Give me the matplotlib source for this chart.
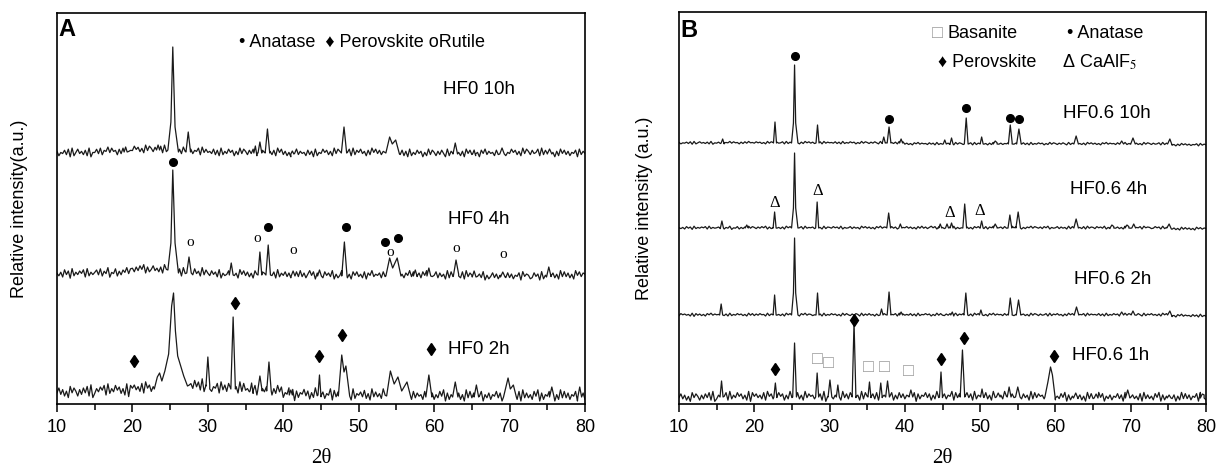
import matplotlib.pyplot as plt
import numpy as np

plt.rcParams['font.family'] = ['Liberation Sans', 'DejaVu Sans']
plt.rcParams['mathtext.fontset'] = 'stix'

# scan grid, 0.25 deg step
two_theta = np.arange(10, 80.001, 0.25)

# baseline texture (digits 0-9 around 4.5)
noise_1 = ("4736251847 5263748291 3647582936 4857362918 5746382957 3648572639 4758362947 5638472915 "
           "4736582947 3857462938 5647382946 4758263847 3659481736 5847263948 4736592847 3658472936 "
           "5748362947 4639582746 5837462938 4756382947 3648592736 5847362948 4739582647 3658472938 "
           "5746382947 4638592736 5847263948 4736582947 3648572936")
noise_2 = ("5362847193 6475829364 5738264915 4826375948 6374859273 5846372958 4637582946 5738462937 "
           "6485739264 5837462958 4736285947 6358472936 5847362849 4736958274 6385749263 5947362858 "
           "4638275946 5738462957 4826375948 6473859264 5837462938 4756382947 6385749263 5847362948 "
           "4736582957 6348572936 5847362948 4736295847 6358472936")
noise_3 = ("6254738192 5846372915 4738265948 5627384956 4857362948 6374582937 5846273958 4736582947 "
           "5648372936 4857263948 6374852937 5846372958 4736285947 5638472936 4857362948 6374582937 "
           "5846273958 4736582947 5648372936 4857263948 6374852937 5846372958 4736285947 5638472936 "
           "4857362948 6374582937 5846273958 4736582947 5648372936")
noise_4 = ("3857462918 4736285947 5648372936 4857362948 3748562937 5846372958 4736285947 6358472936 "
           "4857362948 5374862937 4846273958 5736582947 4648372936 5857263948 4374852937 5846372958 "
           "4736285947 5638472936 4857362948 6374582937 5846273958 4736582947 5648372936 4857263948 "
           "6374852937 5846372958 4736285947 5638472936 4857362948")

# ---------------- Panel A (HF0) ----------------
a_names = ['HF0 2h', 'HF0 4h', 'HF0 10h']
a_offsets = [12, 129, 251]
a_background = [[0, 1, 3, 6, 3, 1, -3, -4, -4, -5, -5, -5, -5, -5],
                [1, 2, 5, 2, 0, 0, -1, -1, -1, -1, -1, -2, -2, -1],
                [0, 1, 3, 1, 0, 0, -1, 0, 0, -1, -1, -1, 0, -1]]
a_noise = [noise_1, noise_2, noise_3]
a_noise_amp = [1.6, 1.2, 1.1]
# peaks: (2theta, height, half width) or explicit vertex lists
a_peaks = [
    [[(22.9, 0), (23.3, 12), (23.6, 16), (23.9, 8), (24.3, 18), (24.8, 35), (25.2, 80), (25.45, 93),
      (25.7, 55), (26.0, 30), (26.4, 20), (26.8, 10), (27.3, 0)],
     (30.0, 32, 0.25), (33.35, 72, 0.3), (35.8, 8, 0.2), (36.9, 15, 0.3), (38.1, 29, 0.3),
     (41.0, 5, 0.2), (44.8, 20, 0.2),
     [(47.3, 0), (47.75, 41), (48.05, 24), (48.3, 30), (48.8, 0)],
     [(53.7, 0), (54.2, 25), (54.7, 12), (55.2, 20), (55.7, 6), (56.4, 15), (56.9, 0)],
     (59.3, 22, 0.4), (62.8, 15, 0.35), (65.6, 12, 0.3),
     [(69.2, 0), (69.8, 19), (70.1, 8), (70.5, 12), (70.9, 0)],
     (75.6, 10, 0.3), (79.3, 10, 0.25)],
    [[(24.7, 0), (25.1, 30), (25.35, 103), (25.65, 30), (26.1, 0)],
     (27.5, 16, 0.3), (33.1, 12, 0.25), (36.9, 23, 0.25), (38.0, 30, 0.3), (41.3, 5, 0.25),
     (44.8, 6, 0.25), (48.1, 34, 0.35),
     [(53.6, 0), (54.1, 18), (54.5, 8), (55.1, 18), (55.6, 0)],
     (57.5, 6, 0.25), (59.3, 8, 0.25), (62.9, 16, 0.35), (65.3, 6, 0.25), (69.1, 5, 0.3),
     (75.2, 9, 0.3)],
    [(19.1, 5, 0.2), (23.4, 5, 0.2),
     [(24.7, 0), (25.1, 30), (25.35, 105), (25.65, 25), (26.1, 0)],
     (27.4, 20, 0.3), (36.3, 7, 0.2), (36.9, 11, 0.25), (37.9, 24, 0.3), (41.2, 3, 0.2),
     (48.05, 26, 0.35),
     [(53.6, 0), (54.1, 16), (54.45, 9), (54.9, 13), (55.4, 0)],
     (62.8, 11, 0.3), (65.3, 4, 0.2), (69.0, 6, 0.3), (75.3, 5, 0.3)],
]
a_anatase = [(25.4, 242), (38.0, 177), (48.3, 177), (53.5, 162), (55.2, 166)]
a_rutile = [(27.6, 161), (36.5, 166), (41.3, 153), (54.2, 151), (62.9, 155), (69.1, 149)]
a_perovskite = [(20.2, 43), (33.6, 101), (44.8, 48), (47.8, 69), (59.6, 55)]

# ---------------- Panel B (HF0.6) ----------------
b_names = ['HF0.6 1h', 'HF0.6 2h', 'HF0.6 4h', 'HF0.6 10h']
b_offsets = [7, 89, 176, 261]
b_background = [[0, 0, 0, 0, 0, 0, 0, 0, 0, 0, -1, -1, -1, -1],
                [0, 0, 0, 0, 0, 0, 0, 0, 0, 0, 0, 0, 0, -1],
                [0, 0, 0, 0, 0, 0, 0, 0, 0, 0, 0, 0, 0, -1],
                [0, 0, 0, 0, 0, 0, -1, -1, -1, -1, -1, -1, -1, -2]]
b_noise = [noise_1, noise_4, noise_2, noise_3]
b_noise_amp = [1.25, 0.4, 0.4, 0.35]
b_peaks = [
    [(15.65, 16, 0.2), (22.8, 14, 0.2), (25.35, 54, 0.25), (28.35, 24, 0.2), (30.05, 17, 0.25),
     (31.1, 12, 0.2), (33.25, 75, 0.25), (35.3, 15, 0.2), (36.8, 14, 0.2), (37.7, 16, 0.25),
     (40.8, 7, 0.25), (44.8, 25, 0.2), (47.65, 47, 0.3), (50.25, 8, 0.2), (52.4, 4, 0.25),
     (53.85, 10, 0.25), (55.0, 10, 0.3),
     [(58.6, 0), (59.0, 15), (59.35, 30), (59.6, 22), (60.0, 0)],
     (62.7, 5, 0.3), (65.4, 4, 0.25), (69.6, 8, 0.3), (75.1, 3, 0.25), (79.5, 4, 0.25)],
    [(15.6, 11, 0.2), (22.7, 20, 0.2),
     [(24.95, 0), (25.2, 22), (25.35, 77), (25.5, 22), (25.8, 0)],
     (28.4, 22, 0.2), (36.9, 6, 0.2), (37.9, 23, 0.25), (39.5, 3, 0.2), (46.3, 3, 0.2),
     (48.1, 22, 0.25), (50.1, 5, 0.2), (54.0, 17, 0.25), (55.1, 15, 0.3), (62.8, 8, 0.3),
     (68.8, 3, 0.25), (70.3, 4, 0.25), (75.2, 5, 0.3)],
    [(15.7, 7, 0.2), (19.0, 3, 0.2), (22.7, 16, 0.2),
     [(24.95, 0), (25.2, 20), (25.35, 75), (25.5, 20), (25.8, 0)],
     (28.35, 26, 0.2), (37.85, 15, 0.25), (39.4, 4, 0.2), (44.7, 4, 0.2), (45.6, 4, 0.2),
     (46.2, 5, 0.2), (47.95, 24, 0.25), (50.2, 7, 0.2), (52.0, 4, 0.25), (53.95, 13, 0.25),
     (55.05, 16, 0.3), (62.75, 9, 0.3), (67.5, 3, 0.25), (69.5, 3, 0.25), (70.4, 4, 0.25),
     (75.1, 5, 0.3)],
    [(15.8, 4, 0.2), (22.75, 21, 0.2),
     [(24.95, 0), (25.2, 20), (25.35, 78), (25.5, 20), (25.8, 0)],
     (28.4, 18, 0.2), (37.2, 6, 0.2), (37.9, 16, 0.25), (39.5, 4, 0.2), (45.3, 4, 0.2),
     (46.2, 6, 0.2), (48.15, 26, 0.25), (50.2, 7, 0.2), (52.0, 3, 0.25), (54.0, 19, 0.25),
     (55.15, 15, 0.3), (62.75, 8, 0.3), (68.8, 3, 0.25), (70.3, 6, 0.3), (75.2, 6, 0.3)],
]
b_anatase = [(25.4, 348), (37.9, 285), (48.1, 296), (54.0, 286), (55.2, 285)]
b_caalf5 = [(22.7, 201), (28.4, 213), (45.9, 191), (50.0, 193)]
b_perovskite = [(22.8, 35), (33.3, 84), (44.8, 45), (47.8, 66), (59.8, 48)]
b_basanite = [(28.4, 44), (29.9, 40), (35.1, 36), (37.3, 37), (40.5, 32)]


def build_trace(offset, background, noise, amp, peaks):
    digits = np.array([int(c) for c in noise.replace(' ', '')][:len(two_theta)])
    seg = np.minimum(((two_theta - 10) // 5).astype(int), 13)
    y = offset + np.array(background)[seg] + (digits - 4.5) * amp
    keep = np.ones(len(two_theta), bool)
    px, py = [], []
    for pk in peaks:
        if isinstance(pk, tuple):
            pos, h, hw = pk
            pk = [(pos - hw, 0), (pos, h), (pos + hw, 0)]
        keep &= ~((two_theta > pk[0][0]) & (two_theta < pk[-1][0]))
        for xx, hh in pk:
            s = min(int((xx - 10) // 5), 13)
            px.append(xx)
            py.append(offset + background[s] + hh)
    X = np.concatenate([two_theta[keep], px])
    Y = np.concatenate([y[keep], py])
    order = np.argsort(X, kind='stable')
    return X[order], Y[order]


fig = plt.figure(figsize=(12.22, 4.71), dpi=100)
axA = fig.add_axes([57 / 1222, 67 / 471, 528 / 1222, 391 / 471])
axB = fig.add_axes([679 / 1222, 67 / 471, 527 / 1222, 392 / 471])

for ax, offs, bgs, noises, amps, peaks in [
        (axA, a_offsets, a_background, a_noise, a_noise_amp, a_peaks),
        (axB, b_offsets, b_background, b_noise, b_noise_amp, b_peaks)]:
    for off, bg, nz, amp, pk in zip(offs, bgs, noises, amps, peaks):
        x, y = build_trace(off, bg, nz, amp, pk)
        ax.plot(x, y, color='#1a1a1a', lw=0.9)
    ax.set_xlim(10, 80)
    ax.set_xticks(np.arange(10, 81, 10))
    ax.set_xticks(np.arange(15, 80, 10), minor=True)
    ax.set_yticks([])
    ax.tick_params(axis='x', which='major', direction='out', length=6, width=1.1,
                   labelsize=13, pad=5)
    ax.tick_params(axis='x', which='minor', direction='out', length=4, width=1.1)
    for sp in ax.spines.values():
        sp.set_linewidth(1.2)
    ax.set_xlabel('2θ', family=['Liberation Serif', 'DejaVu Serif'], fontsize=15, labelpad=9)

axA.set_ylim(0, 391)
axB.set_ylim(0, 392)

# Panel A annotations
axA.set_ylabel('Relative intensity(a.u.)', fontsize=13)
axA.yaxis.set_label_coords(-0.055, 0.5)
axA.text(10.2, 374, 'A', fontsize=17, fontweight='bold', va='center')
axA.text(34.1, 362, '• Anatase  ♦ Perovskite oRutile', fontsize=13, va='center')
axA.text(65.9, 314, a_names[2], fontsize=13.5, ha='center', va='center')
axA.text(65.9, 184, a_names[1], fontsize=13.5, ha='center', va='center')
axA.text(61.9, 55, a_names[0], fontsize=13.5, ha='left', va='center')
axA.plot(*zip(*a_anatase), 'o', color='black', ms=5.5)
axA.plot(*zip(*a_perovskite), 'd', color='black', ms=6)
for x, y in a_rutile:
    axA.text(x, y, 'o', fontsize=11, ha='center', va='center',
             family=['Liberation Serif', 'DejaVu Serif'])

# Panel B annotations
axB.set_ylabel('Relative intensity (a.u.)', fontsize=13)
axB.yaxis.set_label_coords(-0.049, 0.5)
axB.text(10.2, 374, 'B', fontsize=17, fontweight='bold', va='center')
axB.text(43.6, 371, '□', fontsize=13, va='center', color='#9a9a9a')
axB.text(45.6, 371, 'Basanite', fontsize=13, va='center')
axB.text(61.6, 371, '• Anatase', fontsize=13, va='center')
axB.text(44.4, 342, '♦ Perovskite', fontsize=13, va='center')
axB.text(60.9, 342, 'Δ CaAlF$_{5}$', fontsize=13, va='center')
axB.text(66.8, 291, b_names[3], fontsize=13.5, ha='center', va='center')
axB.text(67.0, 215, b_names[2], fontsize=13.5, ha='center', va='center')
axB.text(67.6, 125, b_names[1], fontsize=13.5, ha='center', va='center')
axB.text(62.2, 48, b_names[0], fontsize=13.5, ha='left', va='center')
axB.plot(*zip(*b_anatase), 'o', color='black', ms=5.5)
axB.plot(*zip(*b_perovskite), 'd', color='black', ms=6)
for x, y in b_caalf5:
    axB.text(x, y, 'Δ', fontsize=12, ha='center', va='center',
             family=['Liberation Serif', 'DejaVu Serif'])
for x, y in b_basanite:
    axB.text(x, y, '□', fontsize=13, ha='center', va='center', color='#9a9a9a')

fig.savefig('out.png', dpi=100)
